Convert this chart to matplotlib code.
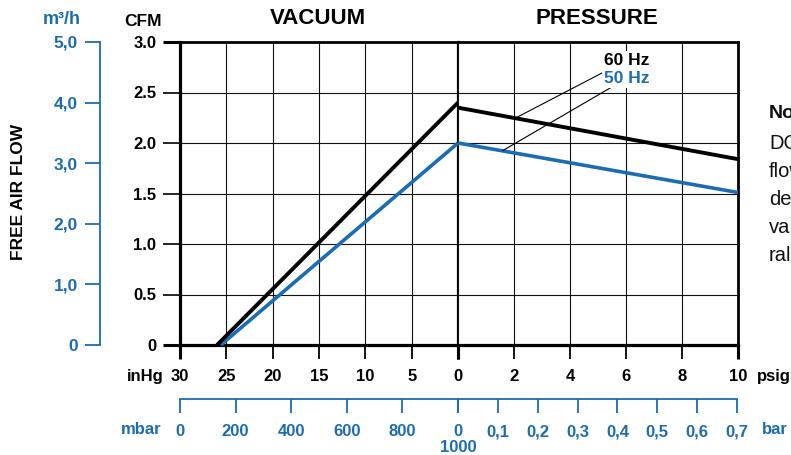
import matplotlib
matplotlib.use("Agg")
import matplotlib.pyplot as plt

# ---------------- data ----------------
vac_ticks = [30, 25, 20, 15, 10, 5, 0]          # inHg
pres_ticks = [0, 2, 4, 6, 8, 10]                 # psig
cfm_ticks = [0, 0.5, 1.0, 1.5, 2.0, 2.5, 3.0]
cfm_labels = ["0", "0.5", "1.0", "1.5", "2.0", "2.5", "3.0"]
m3h_ticks = [0, 1, 2, 3, 4, 5]
m3h_labels = ["0", "1,0", "2,0", "3,0", "4,0", "5,0"]
mbar_ticks = [0, 200, 400, 600, 800, 1000]
mbar_labels = ["0", "200", "400", "600", "800", "1000"]
bar_ticks = [0, 0.1, 0.2, 0.3, 0.4, 0.5, 0.6, 0.7]
bar_labels = ["0", "0,1", "0,2", "0,3", "0,4", "0,5", "0,6", "0,7"]

# 60 Hz curve
vac_60_inhg = [26.0, 0]
vac_60_cfm = [0, 2.40]
pres_60_psig = [0, 10]
pres_60_cfm = [2.35, 1.84]
# 50 Hz curve
vac_50_inhg = [25.6, 0]
vac_50_cfm = [0, 2.0]
pres_50_psig = [0, 10]
pres_50_cfm = [2.0, 1.51]

BLUE = "#1b6cb3"
plt.rcParams["font.family"] = ["Liberation Sans", "DejaVu Sans"]
plt.rcParams["font.weight"] = "bold"

W, H = 791, 455
fig = plt.figure(figsize=(W / 100, H / 100), dpi=100)


def fx(px):
    return px / W


def fy(py):
    return 1 - py / H


top, bot = 42, 345
ax_v = fig.add_axes([fx(180), fy(bot), (458 - 180) / W, (bot - top) / H])
ax_p = fig.add_axes([fx(458), fy(bot), (738 - 458) / W, (bot - top) / H], sharey=ax_v)

ax_v.set_xlim(30, 0)
ax_p.set_xlim(0, 10)
ax_v.set_ylim(0, 3)

for ax, ticks in ((ax_v, vac_ticks), (ax_p, pres_ticks)):
    ax.set_xticks(ticks)
    ax.set_axisbelow(True)
    ax.grid(True, color="#111111", lw=0.8)
    ax.tick_params(axis="x", direction="out", length=10, width=1.3, pad=7,
                   labelsize=12, colors="black")
ax_v.set_xticklabels([str(t) for t in vac_ticks])
ax_p.set_xticklabels([""] + [str(t) for t in pres_ticks[1:]])
ax_v.set_yticks(cfm_ticks)
ax_v.set_yticklabels(cfm_labels)
ax_v.tick_params(axis="y", direction="out", length=12, width=1.2, pad=5, labelsize=12)
ax_p.tick_params(axis="y", left=False, labelleft=False)

for tk in (ax_v.yaxis.get_major_ticks()[0], ax_v.yaxis.get_major_ticks()[-1]):
    tk.tick1line.set_markeredgewidth(2.2)
for tk in (ax_v.xaxis.get_major_ticks()[0], ax_v.xaxis.get_major_ticks()[-1]):
    tk.tick1line.set_markeredgewidth(2.2)
ax_p.xaxis.get_major_ticks()[-1].tick1line.set_markeredgewidth(2.2)
ax_p.xaxis.get_major_ticks()[0].tick1line.set_markeredgewidth(2.2)

for s in ("left", "bottom", "right"):
    ax_v.spines[s].set_linewidth(2.3)
ax_v.spines["top"].set_linewidth(2.0)
ax_p.spines["left"].set_visible(False)
ax_p.spines["bottom"].set_linewidth(2.3)
ax_p.spines["top"].set_linewidth(2.0)
ax_p.spines["right"].set_linewidth(2.0)

# curves
ax_v.plot(vac_60_inhg, vac_60_cfm, color="black", lw=2.8, clip_on=False,
          solid_capstyle="butt", zorder=3)
ax_p.plot(pres_60_psig, pres_60_cfm, color="black", lw=2.8, clip_on=False,
          solid_capstyle="butt", zorder=3)
ax_v.plot(vac_50_inhg, vac_50_cfm, color=BLUE, lw=2.6, clip_on=False,
          solid_capstyle="butt", zorder=2.9)
ax_p.plot(pres_50_psig, pres_50_cfm, color=BLUE, lw=2.6, clip_on=False,
          solid_capstyle="butt", zorder=2.9)

# labels with leader lines
ax_p.annotate("60 Hz", xy=(2.04, 2.245), xytext=(5.21, 2.82), ha="left", va="center",
              fontsize=12.5, color="black",
              bbox=dict(boxstyle="square,pad=0.12", fc="white", ec="none"),
              arrowprops=dict(arrowstyle="-", lw=0.8, color="black",
                              shrinkA=0, shrinkB=0), zorder=5)
ax_p.annotate("50 Hz", xy=(1.60, 1.925), xytext=(5.21, 2.64), ha="left", va="center",
              fontsize=12.5, color=BLUE,
              bbox=dict(boxstyle="square,pad=0.12", fc="white", ec="none"),
              arrowprops=dict(arrowstyle="-", lw=0.8, color="black",
                              shrinkA=0, shrinkB=0), zorder=5)

# m3/h axis
ax_m = fig.add_axes([fx(100), fy(bot), 0.0005, (bot - top) / H])
ax_m.set_facecolor("none")
ax_m.set_ylim(0, 5)
ax_m.set_yticks(m3h_ticks)
ax_m.set_yticklabels(m3h_labels)
for s in ("top", "right", "bottom"):
    ax_m.spines[s].set_visible(False)
ax_m.spines["left"].set_color(BLUE)
ax_m.spines["left"].set_linewidth(1.3)
ax_m.set_xticks([])
ax_m.tick_params(axis="y", direction="out", length=10.5, width=1.3, pad=5.5,
                 labelsize=12.5, colors=BLUE, labelcolor=BLUE)

# mbar / bar rulers
rul_top, rul_bot = 399, 413
ax_mb = fig.add_axes([fx(180), fy(rul_bot), (458 - 180) / W, (rul_bot - rul_top) / H])
ax_b = fig.add_axes([fx(458), fy(rul_bot), (737 - 458) / W, (rul_bot - rul_top) / H])
ax_mb.set_xlim(0, 1000)
ax_b.set_xlim(0, 0.7)
for ax, tks, lbs in ((ax_mb, mbar_ticks, mbar_labels), (ax_b, bar_ticks, bar_labels)):
    ax.set_facecolor("none")
    ax.set_xticks(tks)
    ax.set_xticklabels(lbs)
    ax.set_yticks([])
    for s in ("left", "right", "bottom"):
        ax.spines[s].set_visible(False)
    ax.spines["top"].set_color(BLUE)
    ax.spines["top"].set_linewidth(1.3)
    ax.tick_params(axis="x", top=True, bottom=False, labeltop=False, labelbottom=True,
                   direction="in", length=10, width=1.3, colors=BLUE,
                   labelcolor=BLUE, labelsize=12, pad=8)
ax_mb.xaxis.get_major_ticks()[-1].set_pad(19.5)

# axis titles / units
fig.text(fx(143), fy(21), "CFM", ha="center", va="center", fontsize=12.5)
fig.text(fx(62), fy(20), "m³/h", ha="center", va="center", fontsize=13, color=BLUE)
fig.text(fx(19), fy(192), "FREE AIR FLOW", ha="center", va="center", rotation=90,
         fontsize=12.5)
fig.text(fx(318), fy(19), "VACUUM", ha="center", va="center", fontsize=16)
fig.text(fx(597), fy(19), "PRESSURE", ha="center", va="center", fontsize=16)
fig.text(fx(164), fy(377), "inHg", ha="right", va="center", fontsize=12)
fig.text(fx(757), fy(377), "psig", ha="left", va="center", fontsize=12)
fig.text(fx(162), fy(430), "mbar", ha="right", va="center", fontsize=12, color=BLUE)
fig.text(fx(762), fy(430), "bar", ha="left", va="center", fontsize=12, color=BLUE)

# note (clipped by image edge, as in the reference)
note_lines = ["DC", "flow", "de", "va", "ral"]
fig.text(fx(769), fy(118), "Note", ha="left", va="baseline", fontsize=14,
         fontweight="bold", color="#111111")
for i, line in enumerate(note_lines):
    fig.text(fx(769), fy(149 + i * 28), line, ha="left", va="baseline",
             fontsize=14.5, fontweight="normal", color="#111111")

fig.savefig("out.png", dpi=100)
